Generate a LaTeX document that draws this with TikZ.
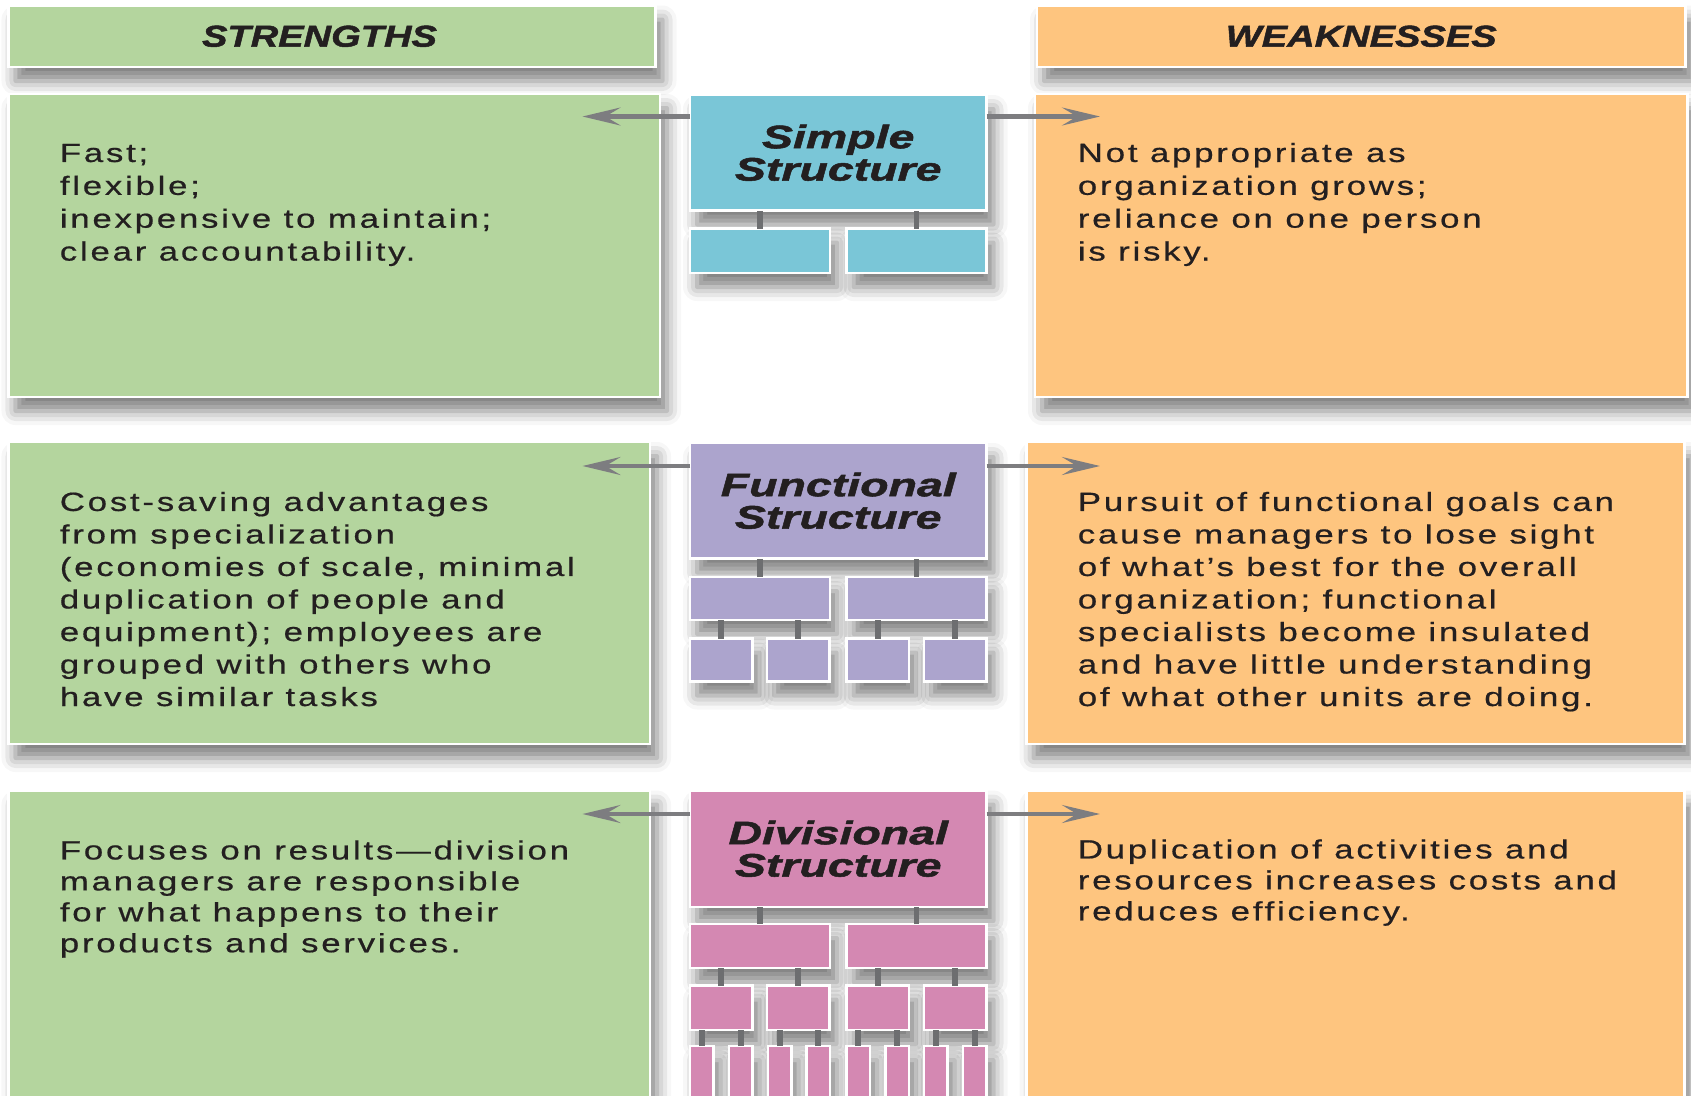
\documentclass[tikz,border=0pt]{standalone}
\usepackage{fontspec}
\setmainfont{Liberation Sans}
\newfontfamily\bodyfont[FakeStretch=1.32,LetterSpace=10.5,FakeBold=0.6]{Liberation Sans}
\newfontfamily\titlefont[FakeStretch=1.43,FakeBold=1.6]{Liberation Sans}
\newfontfamily\headfont[FakeStretch=1.26,FakeBold=1.6]{Liberation Sans}
\usepackage{tikz}
\usetikzlibrary{arrows.meta,shadows.blur}

\definecolor{strengthc}{HTML}{B4D59E}
\definecolor{weakc}{HTML}{FEC57F}
\definecolor{simplec}{HTML}{7AC6D7}
\definecolor{functc}{HTML}{ACA4CD}
\definecolor{divc}{HTML}{D488B2}
\definecolor{textc}{HTML}{231F20}
\definecolor{arrowc}{HTML}{7D7D80}
\definecolor{tickc}{HTML}{6D6E70}

\tikzset{
  panel/.style={draw=white, line width=1.5pt, inner sep=0pt, outer sep=0pt,
    anchor=north west, text=textc,
    blur shadow={shadow xshift=0.14cm, shadow yshift=-0.28cm,
      shadow blur radius=0.28cm, shadow opacity=50}},
  headtxt/.style={text=textc, inner sep=0pt,
    font=\headfont\bfseries\itshape\fontsize{17.2}{20}\selectfont},
  titletxt/.style={align=center, font=\titlefont\bfseries\itshape\fontsize{18.5}{18.4}\selectfont},
  info/.style={anchor=north west, inner sep=0pt, align=left, text=textc,
    font=\bodyfont\fontsize{15}{18.7}\selectfont},
  tick/.style={draw=tickc, line width=3.4pt},
  arr/.style={draw=arrowc, line width=2.3pt,
    -{Stealth[length=0.76cm,width=0.36cm,inset=0.3cm]}},
}

\begin{document}
\begin{tikzpicture}
  \useasboundingbox (0,0) rectangle (33.82,-21.9);
  % Column headers
  \node[panel, fill=strengthc, minimum width=12.94cm, minimum height=1.23cm]
    (strHead) at (0.17,-0.11) {};
  \node[panel, fill=weakc, minimum width=12.97cm, minimum height=1.23cm]
    (weakHead) at (20.74,-0.11) {};
  \node[headtxt] (strLabel) at ([xshift=-0.25cm]strHead.center) {STRENGTHS};
  \node[headtxt] (weakLabel) at (weakHead.center) {WEAKNESSES};

  % Strength and weakness panels
  \node[panel, fill=strengthc, minimum width=13.03cm, minimum height=6.06cm] (str1) at (0.17,-1.88) {};
  \node[panel, fill=weakc, minimum width=13.05cm, minimum height=6.06cm] (weak1) at (20.70,-1.88) {};
  \node[panel, fill=strengthc, minimum width=12.83cm, minimum height=6.04cm] (str2) at (0.17,-8.84) {};
  \node[panel, fill=weakc, minimum width=13.16cm, minimum height=6.04cm] (weak2) at (20.53,-8.84) {};
  \node[panel, fill=strengthc, minimum width=12.83cm, minimum height=6.6cm] (str3) at (0.17,-15.81) {};
  \node[panel, fill=weakc, minimum width=13.16cm, minimum height=6.6cm] (weak3) at (20.53,-15.81) {};

  % Panel texts
  \node[info] (str1txt) at (1.19,-2.87) {Fast;\\ flexible;\\ inexpensive to maintain;\\ clear accountability.};
  \node[info] (weak1txt) at (21.55,-2.85) {Not appropriate as\\ organization grows;\\ reliance on one person\\ is risky.};
  \node[info, font=\bodyfont\fontsize{15}{18.5}\selectfont] (str2txt) at (1.19,-9.83) {Cost-saving advantages\\ from specialization\\ (economies of scale, minimal\\ duplication of people and\\ equipment); employees are\\ grouped with others who\\ have similar tasks};
  \node[info, font=\bodyfont\fontsize{15}{18.5}\selectfont] (weak2txt) at (21.55,-9.83) {Pursuit of functional goals can\\ cause managers to lose sight\\ of what’s best for the overall\\ organization; functional\\ specialists become insulated\\ and have little understanding\\ of what other units are doing.};
  \node[info, font=\bodyfont\fontsize{15}{17.6}\selectfont] (str3txt) at (1.19,-16.8) {Focuses on results—division\\ managers are responsible\\ for what happens to their\\ products and services.};
  \node[info, font=\bodyfont\fontsize{15}{17.6}\selectfont] (weak3txt) at (21.55,-16.78) {Duplication of activities and\\ resources increases costs and\\ reduces efficiency.};

  % Simple structure
  \node[panel, fill=simplec, minimum width=5.93cm, minimum height=2.31cm, titletxt]
    (simple) at (13.8,-1.90) {Simple\\ Structure};
  \foreach \x [count=\i] in {13.8,16.93}
    \node[panel, fill=simplec, minimum width=2.8cm, minimum height=0.89cm] (sa\i) at (\x,-4.57) {};
  \foreach \i in {1,2}
    \draw[tick] (sa\i.north) -- (sa\i.north |- simple.south);

  % Functional structure
  \node[panel, fill=functc, minimum width=5.93cm, minimum height=2.31cm, titletxt]
    (funct) at (13.8,-8.86) {Functional\\ Structure};
  \foreach \x [count=\i] in {13.8,16.93}
    \node[panel, fill=functc, minimum width=2.8cm, minimum height=0.86cm] (fa\i) at (\x,-11.54) {};
  \foreach \x [count=\i] in {13.8,15.34,16.93,18.48}
    \node[panel, fill=functc, minimum width=1.25cm, minimum height=0.86cm] (fb\i) at (\x,-12.77) {};
  \foreach \i in {1,2}
    \draw[tick] (fa\i.north) -- (fa\i.north |- funct.south);
  \foreach \i/\p in {1/1,2/1,3/2,4/2}
    \draw[tick] (fb\i.north) -- (fb\i.north |- fa\p.south);

  % Divisional structure
  \node[panel, fill=divc, minimum width=5.93cm, minimum height=2.33cm, titletxt]
    (divis) at (13.8,-15.81) {Divisional\\ Structure};
  \foreach \x [count=\i] in {13.8,16.93}
    \node[panel, fill=divc, minimum width=2.8cm, minimum height=0.88cm] (da\i) at (\x,-18.48) {};
  \foreach \x [count=\i] in {13.8,15.34,16.93,18.48}
    \node[panel, fill=divc, minimum width=1.25cm, minimum height=0.89cm] (db\i) at (\x,-19.71) {};
  \foreach \x [count=\i] in {13.8,14.58,15.36,16.13,16.93,17.71,18.48,19.26}
    \node[panel, fill=divc, minimum width=0.47cm, minimum height=1.3cm] (dc\i) at (\x,-20.92) {};
  \foreach \i in {1,2}
    \draw[tick] (da\i.north) -- (da\i.north |- divis.south);
  \foreach \i/\p in {1/1,2/1,3/2,4/2}
    \draw[tick] (db\i.north) -- (db\i.north |- da\p.south);
  \foreach \i/\p in {1/1,2/1,3/2,4/2,5/3,6/3,7/4,8/4}
    \draw[tick] (dc\i.north) -- (dc\i.north |- db\p.south);

  % Arrows to the strengths and weaknesses
  \coordinate (simpleL) at (11.65,-2.33);
  \coordinate (simpleR) at (22.0,-2.33);
  \coordinate (functL) at (11.65,-9.32);
  \coordinate (functR) at (22.0,-9.32);
  \coordinate (divisL) at (11.65,-16.28);
  \coordinate (divisR) at (22.0,-16.28);
  \foreach \n in {simple,funct,divis} {
    \draw[arr] (\n L -| \n.west) -- (\n L);
    \draw[arr] (\n R -| \n.east) -- (\n R);
  }
\end{tikzpicture}
\end{document}
